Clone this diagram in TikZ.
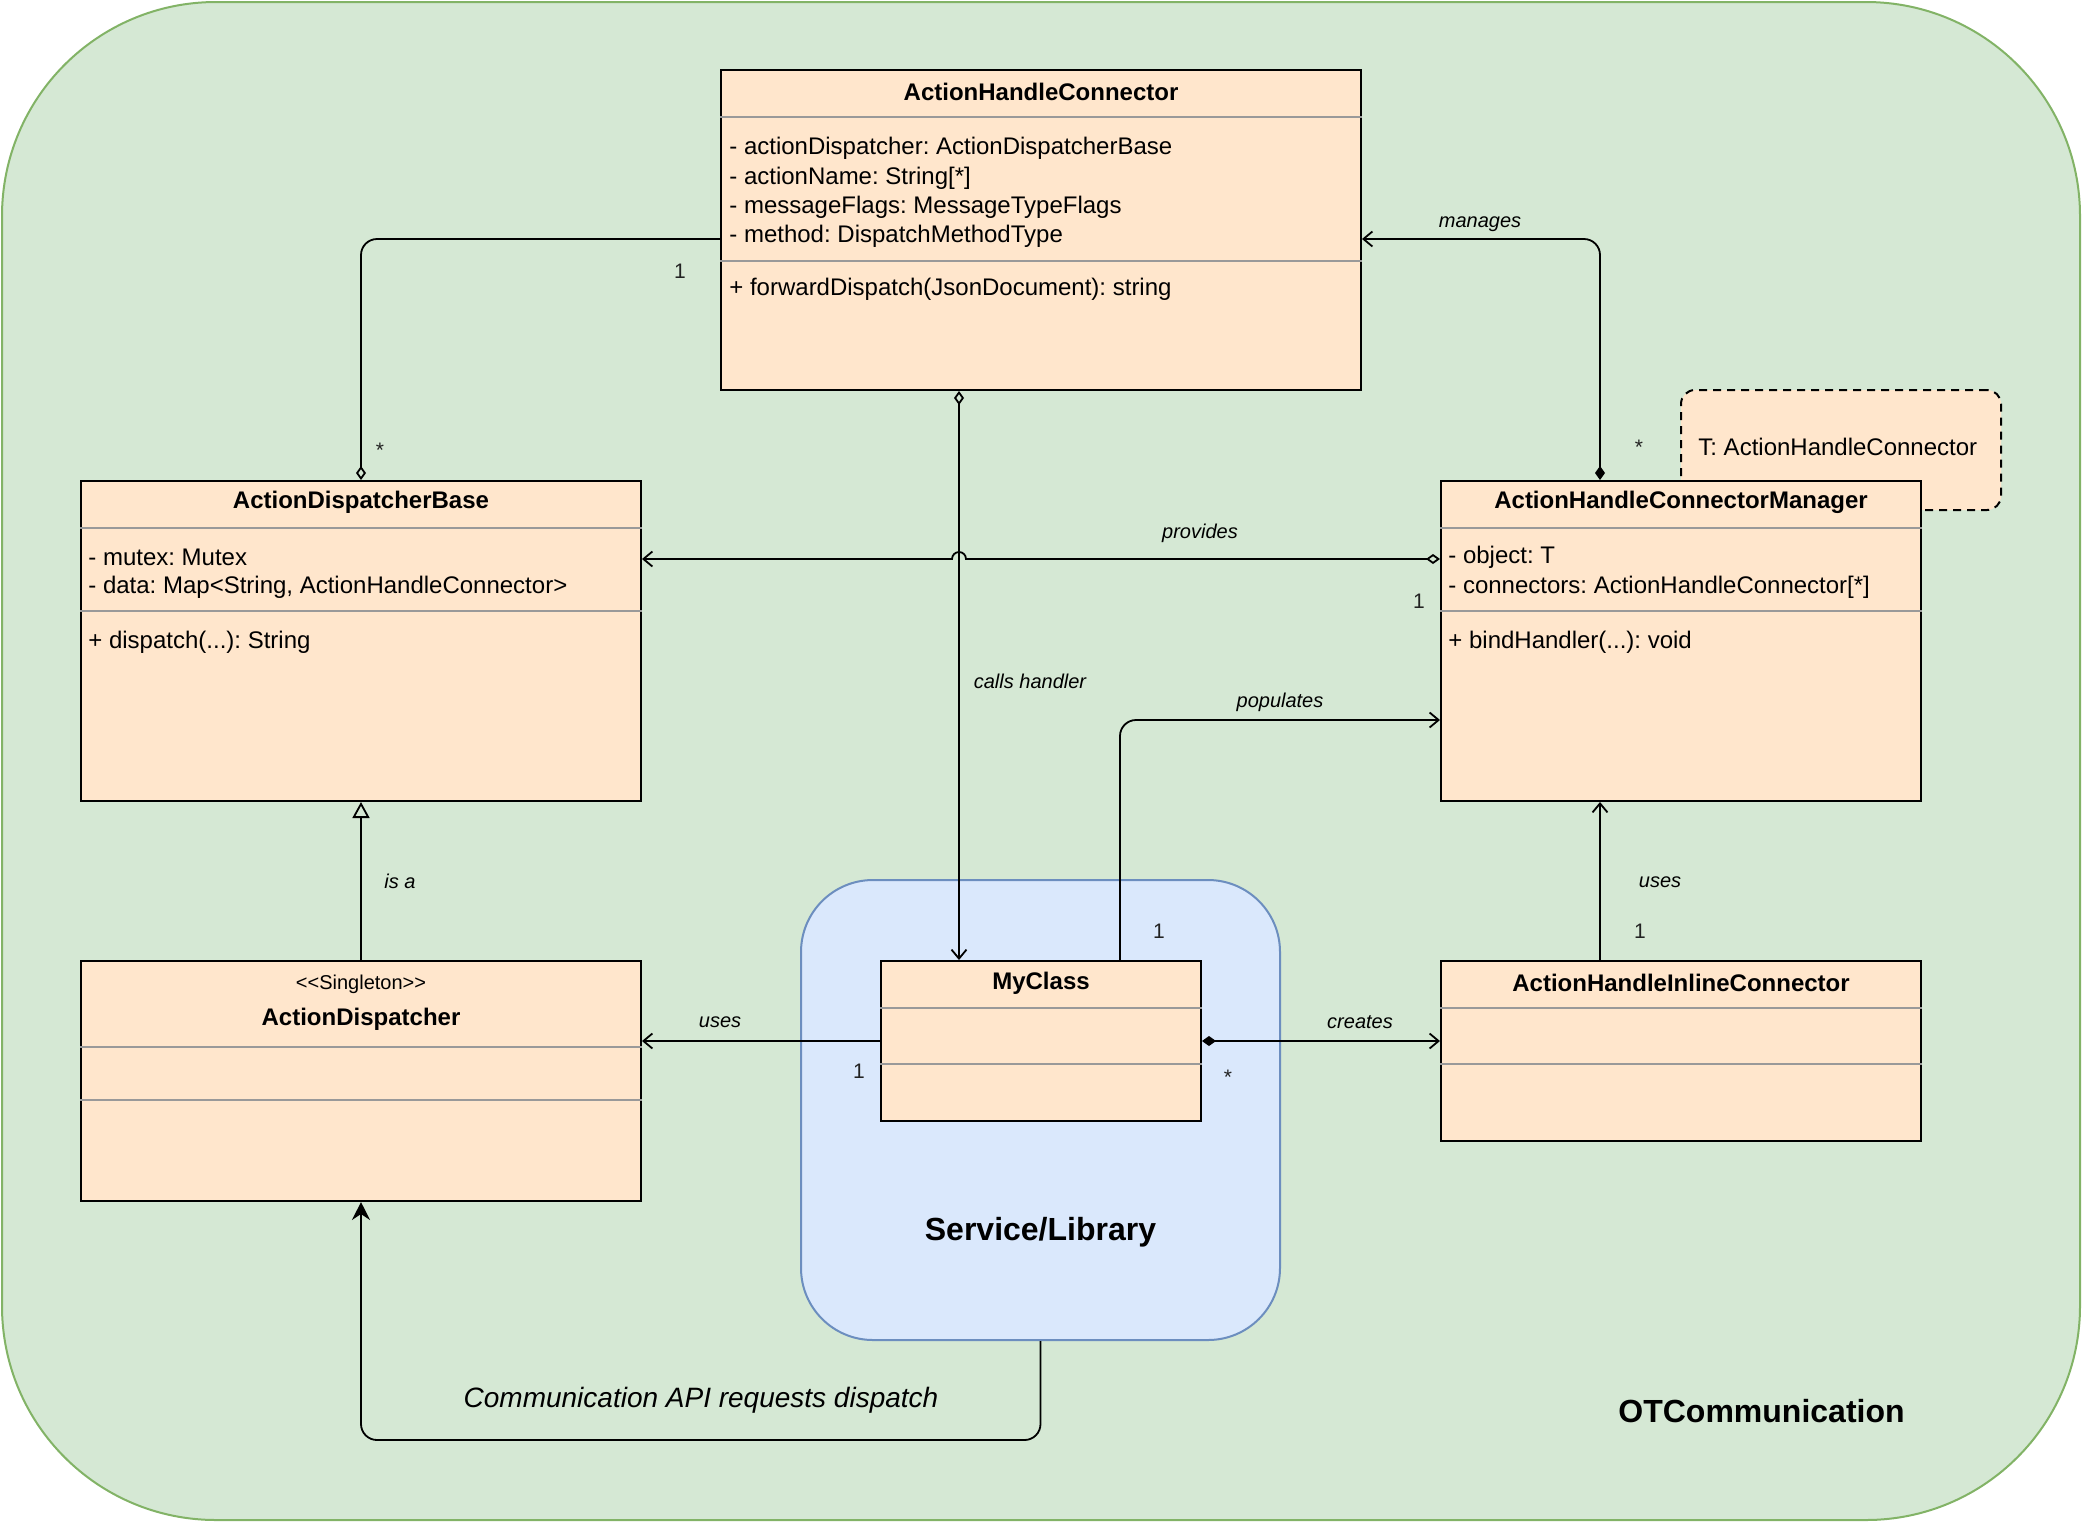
\documentclass[tikz,border=0pt]{standalone}
\usepackage{fontspec}
\setmainfont{Liberation Sans}
\usetikzlibrary{arrows.meta,calc}
\definecolor{otcfill}{HTML}{D5E8D4}
\definecolor{otcline}{HTML}{82B366}
\definecolor{svcfill}{HTML}{DAE8FC}
\definecolor{svcline}{HTML}{6C8EBF}
\definecolor{clsfill}{HTML}{FFE6CC}
\definecolor{sepgray}{HTML}{999999}
\definecolor{multgray}{HTML}{222222}
\tikzset{
  odia/.tip={Diamond[open,length=7pt,width=5pt,line width=0.9pt]},
  fdia/.tip={Diamond[length=7pt,width=5pt]},
  barb/.tip={Straight Barb[length=4.5pt,width=7.5pt,line width=0.9pt]},
  otri/.tip={Triangle[open,length=8pt,width=8.5pt,line width=0.9pt]},
  stl/.tip={Stealth[length=9pt,width=9pt,inset=3pt]},
}
\frenchspacing
\begin{document}
\begin{tikzpicture}[x=0.5pt,y=-0.5pt,
  cls/.style={draw=black, line width=1pt, fill=clsfill, inner sep=0pt},
  sepline/.style={draw=sepgray, line width=0.9pt},
  ttl/.style={font=\bfseries\fontsize{12pt}{14pt}\selectfont, inner sep=0pt},
  attr/.style={font=\fontsize{12pt}{14pt}\selectfont, anchor=west, inner sep=0pt},
  stereo/.style={font=\fontsize{10pt}{12pt}\selectfont, inner sep=0pt},
  lbl/.style={font=\itshape\fontsize{10pt}{12pt}\selectfont, inner sep=0pt},
  mult/.style={font=\fontsize{10.5pt}{12pt}\selectfont, inner sep=0pt, text=multgray},
  conn/.style={line width=0.9pt, draw=black},
  big/.style={font=\bfseries\fontsize{16pt}{19pt}\selectfont, inner sep=0pt},
]
\useasboundingbox (0,0) rectangle (2082,1522);

% outer package
\node[draw=otcline, fill=otcfill, line width=1pt, rounded corners=107pt,
      minimum width=1039pt, minimum height=759pt] (otc) at (1041,761) {};
\node[big, anchor=west] (otctext) at (1618,1411) {OTCommunication};

% service / library container
\node[draw=svcline, fill=svcfill, line width=1pt, rounded corners=36pt,
      minimum width=239.5pt, minimum height=230pt] (svc) at (1040.5,1110) {};
\node[big] (svctext) at (1040.5,1232) {Service/Library};

% note
\node[draw=black, dashed, dash pattern=on 4pt off 3pt, line width=1pt, fill=clsfill,
      rounded corners=7pt, minimum width=160pt, minimum height=60pt] (note) at (1841,450) {};
\node[attr] (notetext) at (1698,447) {T: ActionHandleConnector};

% ---------- classes ----------
\node[cls, minimum width=320pt, minimum height=160pt] (ahc) at (1041,230) {};
\draw[sepline] ([yshift=-24pt]ahc.north west) -- ([yshift=-24pt]ahc.north east);
\draw[sepline] ([yshift=-96pt]ahc.north west) -- ([yshift=-96pt]ahc.north east);
\node[ttl] (ahct) at (1041,92) {ActionHandleConnector};
\node[attr] (ahca1) at (729,148.5) {- actionDispatcher: ActionDispatcherBase};
\node[attr] (ahca2) at (729,178) {- actionName: String[*]};
\node[attr] (ahca3) at (729,207) {- messageFlags: MessageTypeFlags};
\node[attr] (ahca4) at (729,236.5) {- method: DispatchMethodType};
\node[attr] (ahcm1) at (729,289.5) {+ forwardDispatch(JsonDocument): string};

\node[cls, minimum width=280pt, minimum height=160pt] (adb) at (361,641) {};
\draw[sepline] ([yshift=-24pt]adb.north west) -- ([yshift=-24pt]adb.north east);
\draw[sepline] ([yshift=-65.5pt]adb.north west) -- ([yshift=-65.5pt]adb.north east);
\node[ttl] (adbt) at (361,502.5) {ActionDispatcherBase};
\node[attr] (adba1) at (88,557.5) {- mutex: Mutex};
\node[attr] (adba2) at (88,587) {- data: Map<String, ActionHandleConnector>};
\node[attr] (adbm1) at (88,642) {+ dispatch(...): String};

\node[cls, minimum width=240pt, minimum height=160pt] (ahcm) at (1681,641) {};
\draw[sepline] ([yshift=-24pt]ahcm.north west) -- ([yshift=-24pt]ahcm.north east);
\draw[sepline] ([yshift=-65.5pt]ahcm.north west) -- ([yshift=-65.5pt]ahcm.north east);
\node[ttl] (ahcmt) at (1681,502.5) {ActionHandleConnectorManager};
\node[attr] (ahcma1) at (1448,557.5) {- object: T};
\node[attr] (ahcma2) at (1448,587) {- connectors: ActionHandleConnector[*]};
\node[attr] (ahcmm1) at (1448,642) {+ bindHandler(...): void};

\node[cls, minimum width=280pt, minimum height=120pt] (ad) at (361,1081) {};
\draw[sepline] ([yshift=-43.5pt]ad.north west) -- ([yshift=-43.5pt]ad.north east);
\draw[sepline] ([yshift=-70pt]ad.north west) -- ([yshift=-70pt]ad.north east);
\node[stereo] (ads) at (361,984) {<{}<Singleton>{}>};
\node[ttl] (adt) at (361,1019) {ActionDispatcher};

\node[cls, minimum width=160pt, minimum height=80pt] (myclass) at (1041,1041) {};
\draw[sepline] ([yshift=-24pt]myclass.north west) -- ([yshift=-24pt]myclass.north east);
\draw[sepline] ([yshift=-52pt]myclass.north west) -- ([yshift=-52pt]myclass.north east);
\node[ttl] (myclasst) at (1041,983) {MyClass};

\node[cls, minimum width=240pt, minimum height=90pt] (ahic) at (1681,1051) {};
\draw[sepline] ([yshift=-24pt]ahic.north west) -- ([yshift=-24pt]ahic.north east);
\draw[sepline] ([yshift=-52pt]ahic.north west) -- ([yshift=-52pt]ahic.north east);
\node[ttl] (ahict) at (1681,982.5) {ActionHandleInlineConnector};

% ---------- connectors ----------
% AHC -> ADB aggregation
\draw[conn, -{odia}, rounded corners=8pt] ([yshift=-85pt]ahc.north west) -| (adb.north);
\node[mult] (m1) at (680,271) {1};
\node[mult] (m2) at (380,450) {*};

% manages
\draw[conn, {fdia}-{barb}, rounded corners=8pt] ([xshift=80pt]ahcm.north west) |- ([yshift=-85pt]ahc.north east);
\node[lbl] (lmanages) at (1480,224) {manages};
\node[mult] (m3) at (1639,447) {*};

% calls handler
\coordinate (callsx) at ([xshift=119.5pt]ahc.south west);
\draw[conn, {odia}-{barb}] (callsx) -- (callsx |- myclass.north);
\node[lbl] (lcalls) at (1030,681) {calls handler};

% provides (with line hop)
\coordinate (provy) at ([yshift=-39.5pt]ahcm.north west);
\coordinate (hop) at (callsx |- provy);
\draw[conn, {odia}-{barb}] (provy) -- ([xshift=3.5pt]hop)
  arc[start angle=0, end angle=180, radius=3.5pt] -- (provy -| adb.east);
\node[lbl] (lprovides) at (1200,533) {provides};
\node[mult] (m4) at (1419,601) {1};

% populates
\draw[conn, -{barb}, rounded corners=8pt] ([xshift=120pt]myclass.north west) |- ([yshift=-120pt]ahcm.north west);
\node[lbl] (lpopulates) at (1280,702.5) {populates};
\node[mult] (m5) at (1159,931) {1};

% is a
\draw[conn, -{otri}] (ad.north) -- (adb.south);
\node[lbl] (lisa) at (400,881) {is a};

% uses (MyClass -> ActionDispatcher)
\draw[conn, -{barb}] (myclass.west) -- (myclass.west -| ad.east);
\node[lbl] (luses1) at (720,1022.5) {uses};
\node[mult] (m6) at (859,1071) {1};

% creates
\draw[conn, {fdia}-{barb}] (myclass.east) -- (myclass.east -| ahic.west);
\node[lbl] (lcreates) at (1360,1022.5) {creates};
\node[mult] (m7) at (1228,1077) {*};

% uses (AHIC -> AHCM)
\draw[conn, -{barb}] ([xshift=80pt]ahic.north west) -- ([xshift=80pt]ahcm.south west);
\node[lbl] (luses2) at (1660,882.5) {uses};
\node[mult] (m8) at (1640,931) {1};

% communication API
\draw[conn, -{stl}, rounded corners=8pt] (svc.south) -- ++(0,99) -| (ad.south);
\node[font=\itshape\fontsize{14pt}{17pt}\selectfont, inner sep=0pt] (lcomm) at (701,1400) {Communication API requests dispatch};
\end{tikzpicture}
\end{document}
